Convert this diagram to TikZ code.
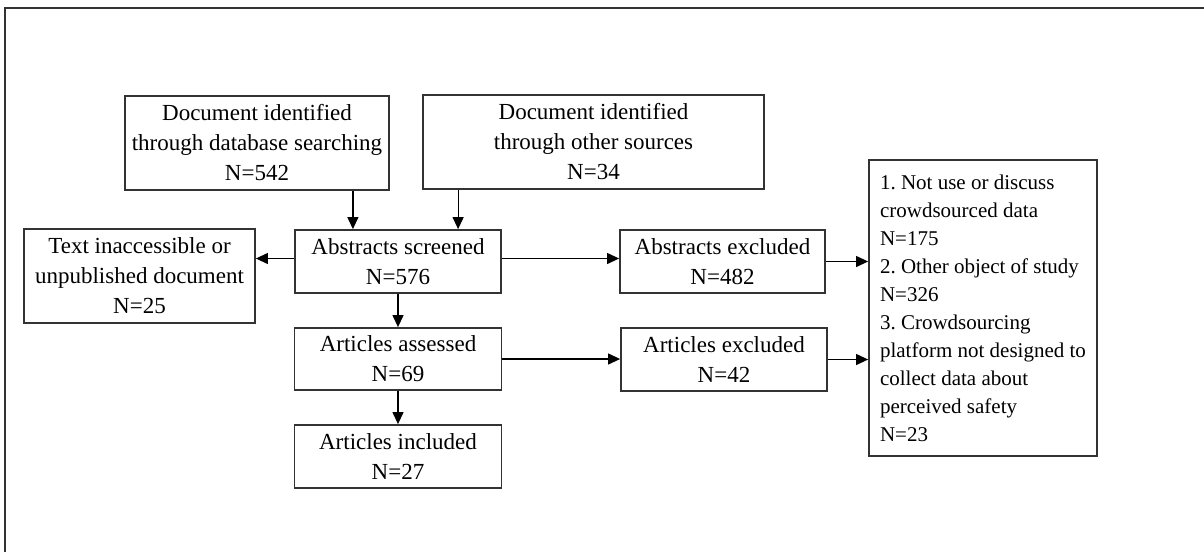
\documentclass[tikz,border=0pt]{standalone}
\usepackage{fontspec}
\setmainfont{Liberation Serif}
\usetikzlibrary{arrows.meta, positioning, calc}

\begin{document}
\begin{tikzpicture}[x=0.5pt, y=-0.5pt,
    box/.style={draw=black!80, line width=0.9pt, align=center, inner sep=0pt,
      font=\fontsize{11.5}{15}\selectfont},
    arr/.style={-{Triangle[length=6pt, width=5.5pt]}, line width=0.6pt}]
    \useasboundingbox (0,0) rectangle (1204,552);
    \draw [black!80, line width=1pt] (5,552) -- (5,8) -- (1204,8);

    \node[box, minimum width=132pt, minimum height=47pt] (db) at (257,143)
      {Document identified\\through database searching\\N=542};
    \node[box, minimum width=170.5pt, minimum height=47pt] (other) at (593.5,142)
      {Document identified\\through other sources\\N=34};
    \node[box, minimum width=103pt, minimum height=31.5pt] (screened) at (398,261.5)
      {Abstracts screened\\N=576};
    \node[box, minimum width=115.5pt, minimum height=47pt] (inacc) at (139.5,276)
      {Text inaccessible or\\unpublished document\\N=25};
    \node[box, minimum width=102.5pt, minimum height=31.5pt] (absexcl) at (722.5,261.5)
      {Abstracts excluded\\N=482};
    \node[box, minimum width=103.5pt, minimum height=31pt] (assessed) at (398,359)
      {Articles assessed\\N=69};
    \node[box, minimum width=103pt, minimum height=31.5pt] (artexcl) at (724,359.5)
      {Articles excluded\\N=42};
    \node[box, minimum width=103.5pt, minimum height=31.5pt] (included) at (398,456.5)
      {Articles included\\N=27};
    \node[box, align=left, minimum width=114pt, minimum height=148pt,
      font=\fontsize{10.5}{14}\selectfont\frenchspacing] (reasons) at (983,308)
      {1. Not use or discuss\\crowdsourced data\\N=175\\2. Other object of study\\N=326\\3. Crowdsourcing\\platform not designed to\\collect data about\\perceived safety\\N=23};

    % arrows
    \coordinate (dbout) at ([xshift=-18.5pt]db.south east);
    \coordinate (otherout) at ([xshift=18pt]other.south west);
    \draw [arr] (dbout) -- (dbout |- screened.north);
    \draw [arr] (otherout) -- (otherout |- screened.north);
    \draw [arr] ([yshift=1.5pt]screened.west) -- ([yshift=1.5pt]screened.west -| inacc.east);
    \draw [arr] ([yshift=1.5pt]screened.east) -- ([yshift=1.5pt]screened.east -| absexcl.west);
    \draw [arr] (absexcl.east) -- (absexcl.east -| reasons.west);
    \draw [arr] (screened) -- (assessed);
    \draw [arr] (assessed.east) -- (assessed.east -| artexcl.west);
    \draw [arr] (artexcl.east) -- (artexcl.east -| reasons.west);
    \draw [arr] (assessed) -- (included);
\end{tikzpicture}
\end{document}
